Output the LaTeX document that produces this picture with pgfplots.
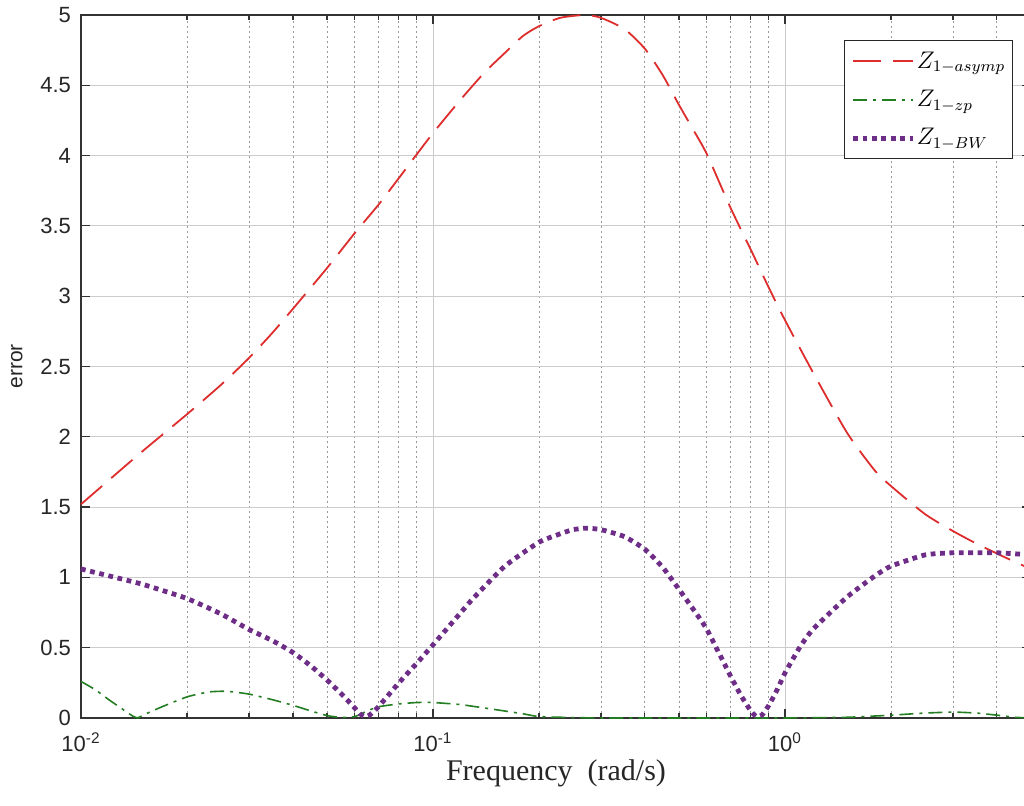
\documentclass[border=0pt]{standalone}
\usepackage{pgfplots}
\pgfplotsset{compat=1.18}
\usepackage{fontspec}
\setmainfont{Liberation Sans}
\newfontfamily\timesfont{Liberation Serif}
\definecolor{cred}{RGB}{222,45,45}
\definecolor{cgreen}{RGB}{35,125,35}
\definecolor{cpurple}{RGB}{110,45,135}

\pgfplotstableread{
f v
0.01 1.52
0.0125 1.73
0.015 1.90
0.02 2.16
0.025 2.37
0.03 2.56
0.035 2.74
0.04 2.91
0.05 3.20
0.06 3.45
0.07 3.65
0.08 3.84
0.09 4.01
0.1 4.16
0.12 4.40
0.14 4.59
0.16 4.73
0.18 4.85
0.2 4.92
0.23 4.98
0.27 5.0
0.3 4.98
0.35 4.90
0.4 4.76
0.45 4.57
0.5 4.36
0.55 4.18
0.6 4.01
0.7 3.63
0.8 3.33
0.9 3.06
1.0 2.83
1.2 2.46
1.5 2.03
1.8 1.76
2.0 1.65
2.5 1.45
3.0 1.33
3.5 1.24
4.0 1.17
4.5 1.11
5.0 1.06
}\asymp

\pgfplotstableread{
f v
0.01 0.26
0.011 0.20
0.012 0.13
0.013 0.07
0.014 0.015
0.0145 0.0
0.015 0.02
0.017 0.08
0.02 0.15
0.023 0.185
0.026 0.19
0.03 0.17
0.035 0.13
0.04 0.09
0.045 0.05
0.05 0.017
0.055 0.003
0.06 0.01
0.065 0.05
0.07 0.08
0.08 0.10
0.09 0.11
0.1 0.11
0.12 0.095
0.15 0.06
0.18 0.03
0.2 0.01
0.25 0.003
0.3 0.0
0.5 0.0
1.0 0.0
1.5 0.005
2.0 0.02
2.5 0.035
3.0 0.042
3.5 0.035
4.0 0.02
4.5 0.005
5.0 0.0
}\zp

\pgfplotstableread{
f v
0.01 1.06
0.0125 1.00
0.015 0.95
0.02 0.85
0.025 0.74
0.03 0.63
0.035 0.55
0.04 0.466
0.045 0.37
0.05 0.27
0.055 0.17
0.06 0.07
0.062 0.03
0.064 0.01
0.066 0.02
0.07 0.08
0.08 0.25
0.09 0.39
0.1 0.52
0.12 0.75
0.13 0.85
0.16 1.08
0.2 1.25
0.23 1.31
0.25 1.34
0.273 1.35
0.3 1.34
0.35 1.29
0.4 1.20
0.45 1.07
0.5 0.915
0.55 0.77
0.6 0.63
0.7 0.30
0.75 0.16
0.8 0.05
0.83 0.01
0.86 0.02
0.9 0.09
0.95 0.20
1.0 0.32
1.1 0.50
1.2 0.63
1.5 0.86
1.8 1.01
2.0 1.08
2.5 1.16
3.0 1.175
4.0 1.175
5.0 1.16
}\bw

\begin{document}
\begin{tikzpicture}
\useasboundingbox (0,0) rectangle (512pt,403pt);
\begin{axis}[
  at={(40.5pt,44pt)}, anchor=south west,
  scale only axis, width=475pt, height=351.5pt,
  xmode=log, xmin=0.01, xmax=5, ymin=0, ymax=5,
  xtick={0.01,0.1,1},
  xticklabels={10\textsuperscript{-2},10\textsuperscript{-1},10\textsuperscript{0}},
  minor xtick={0.02,0.03,0.04,0.05,0.06,0.07,0.08,0.09,0.2,0.3,0.4,0.5,0.6,0.7,0.8,0.9,2,3,4},
  ytick={0,0.5,...,5},
  yticklabels={0,0.5,1,1.5,2,2.5,3,3.5,4,4.5,5},
  xmajorgrids=true, xminorgrids=true, ymajorgrids=true,
  major grid style={black!20, line width=0.4pt},
  minor grid style={black!40, line width=0.4pt, dash pattern=on 1pt off 1.5pt},
  tick align=inside, xtick pos=both, ytick pos=both,
  xticklabel pos=lower, yticklabel pos=left,
  major tick length=4.5pt, minor tick length=2.5pt,
  tick style={black!80, line width=0.6pt},
  axis line style={black!80, line width=0.7pt},
  ticklabel style={font=\fontsize{11}{13}\selectfont, text=black!85},
  yticklabel style={xshift=-1.5pt},
  xticklabel style={yshift=-4pt},
  xlabel={Frequency\ \ (rad/s)},
  xlabel style={font=\timesfont\fontsize{15}{18}\selectfont, text=black!85, yshift=3pt},
  ylabel={error},
  ylabel style={font=\fontsize{10.5}{12}\selectfont, text=black!85, yshift=2pt},
  legend style={at={(0.981,0.9644)}, anchor=north east, draw=black!85, line width=0.6pt,
     fill=white, inner xsep=3pt, inner ysep=3.5pt, row sep=5.5pt,
     font=\fontsize{12}{14}\selectfont, nodes={inner xsep=0.6pt, inner ysep=2pt}},
  legend cell align=left,
  legend image code/.code={\draw[#1] (0pt,0pt) -- (30pt,0pt);},
  clip=false,
]
\addplot[cred, line width=0.9pt, dash pattern=on 14pt off 6pt, smooth, tension=0.4] table[x=f,y=v]{\asymp};
\addlegendentry{$Z_{1-asymp}$}
\addplot[cgreen, line width=0.8pt, dash pattern=on 7pt off 3pt on 1.5pt off 3pt, smooth, tension=0.3] table[x=f,y=v]{\zp};
\addlegendentry{$Z_{1-zp}$}
\addplot[cpurple, line width=2.4pt, dash pattern=on 2.4pt off 2.3pt, smooth, tension=0.3] table[x=f,y=v]{\bw};
\addlegendentry{$Z_{1-BW}$}
\end{axis}
\end{tikzpicture}
\end{document}
